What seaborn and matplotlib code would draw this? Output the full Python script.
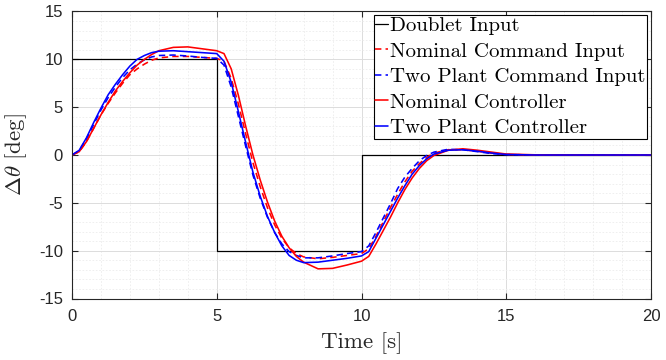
import matplotlib
matplotlib.use("Agg")
import matplotlib.pyplot as plt
import seaborn as sns
from matplotlib.ticker import MultipleLocator

# ---------------- data ----------------
t = [0, 0.25, 0.5, 0.75, 1, 1.25, 1.5, 1.75, 2, 2.25, 2.5, 2.75, 3,
     3.5, 4, 4.5, 5,
     5.25, 5.5, 5.75, 6, 6.25, 6.5, 6.75, 7, 7.25, 7.5, 7.75, 8,
     8.5, 9, 9.5, 10,
     10.25, 10.5, 10.75, 11, 11.25, 11.5, 11.75, 12, 12.25, 12.5,
     13, 13.5, 14, 14.5, 15,
     16, 18, 20]

nominal_cmd = [0, 0.35, 1.4, 2.8, 4.2, 5.4, 6.5, 7.5, 8.4, 9.0, 9.5, 9.9, 10.15,
               10.3, 10.3, 10.2, 10.1,
               9.8, 8.0, 5.3, 2.2, -0.8, -3.3, -5.5, -7.3, -8.7, -9.7, -10.3, -10.65,
               -10.85, -10.7, -10.5, -10.3,
               -9.8, -8.5, -7.0, -5.5, -4.1, -2.8, -1.7, -0.9, -0.25, 0.2,
               0.55, 0.55, 0.4, 0.2, 0.05,
               0.0, 0.0, 0.0]

twoplant_cmd = [0, 0.45, 1.7, 3.2, 4.7, 6.0, 7.1, 8.1, 8.9, 9.5, 9.95, 10.25, 10.4,
                10.45, 10.35, 10.2, 10.1,
                9.4, 7.1, 4.0, 0.9, -2.1, -4.5, -6.5, -8.1, -9.3, -10.1, -10.5, -10.75,
                -10.75, -10.55, -10.3, -10.1,
                -9.5, -8.1, -6.6, -5.1, -3.5, -2.3, -1.4, -0.6, -0.05, 0.3,
                0.6, 0.55, 0.35, 0.15, 0.05,
                0.0, 0.0, 0.0]

nominal_ctrl = [0, 0.35, 1.4, 2.8, 4.2, 5.5, 6.7, 7.7, 8.6, 9.4, 10.0, 10.5, 10.9,
                11.25, 11.3, 11.1, 10.9,
                10.6, 9.0, 6.2, 3.0, 0.0, -2.6, -4.9, -6.9, -8.5, -9.7, -10.6, -11.2,
                -11.9, -11.85, -11.5, -11.1,
                -10.6, -9.3, -7.9, -6.5, -5.0, -3.6, -2.4, -1.4, -0.6, -0.05,
                0.5, 0.65, 0.5, 0.3, 0.1,
                0.02, 0.0, 0.0]

twoplant_ctrl = [0, 0.5, 1.8, 3.4, 4.9, 6.3, 7.4, 8.4, 9.3, 10.0, 10.4, 10.7, 10.85,
                 10.9, 10.8, 10.7, 10.6,
                 9.8, 7.6, 4.5, 1.3, -1.8, -4.3, -6.4, -8.1, -9.5, -10.5, -11.0, -11.25,
                 -11.2, -11.0, -10.8, -10.55,
                 -10.1, -8.7, -7.3, -5.9, -4.5, -3.2, -2.0, -1.1, -0.4, 0.1,
                 0.5, 0.55, 0.4, 0.2, 0.05,
                 0.0, 0.0, 0.0]

doublet_t = [0, 5, 10, 20]
doublet_v = [10, -10, 0, 0]

labels = ["Doublet Input", "Nominal Command Input", "Two Plant Command Input",
          "Nominal Controller", "Two Plant Controller"]
xticks = [0, 5, 10, 15, 20]
yticks = [-15, -10, -5, 0, 5, 10, 15]

# ---------------- style ----------------
sns.set_theme(style="white")
plt.rcParams["font.family"] = ["Liberation Sans", "DejaVu Sans"]
plt.rcParams["mathtext.fontset"] = "cm"

fig = plt.figure(figsize=(6.66, 3.6), dpi=100)
ax = fig.add_axes([72 / 666, (360 - 298.5) / 360, 579 / 666, 287 / 360])

lw = 1.15
dash = (0, (4, 2.6))

sns.lineplot(x=doublet_t, y=doublet_v, ax=ax, color="black", lw=0.9,
             drawstyle="steps-post", label=labels[0], sort=False)
sns.lineplot(x=t, y=nominal_cmd, ax=ax, color="red", lw=lw, linestyle=dash,
             label=labels[1], sort=False)
sns.lineplot(x=t, y=twoplant_cmd, ax=ax, color="blue", lw=lw, linestyle=dash,
             label=labels[2], sort=False)
sns.lineplot(x=t, y=nominal_ctrl, ax=ax, color="red", lw=lw,
             label=labels[3], sort=False)
sns.lineplot(x=t, y=twoplant_ctrl, ax=ax, color="blue", lw=lw,
             label=labels[4], sort=False)

ax.set_xlim(0, 20)
ax.set_ylim(-15, 15)
ax.set_xticks(xticks)
ax.set_yticks(yticks)
ax.set_xticklabels([str(v) for v in xticks])
ax.set_yticklabels([str(v) for v in yticks])
ax.xaxis.set_minor_locator(MultipleLocator(1))
ax.yaxis.set_minor_locator(MultipleLocator(1))
ax.grid(which="major", color="#dcdcdc", lw=0.7, ls="-")
ax.grid(which="minor", color="#ececec", lw=0.6, ls=(0, (2, 2)))
ax.set_axisbelow(True)

for s in ax.spines.values():
    s.set_color("#262626")
    s.set_linewidth(0.8)
ax.tick_params(which="major", direction="in", length=4, width=0.8, color="#262626",
               top=True, right=True, bottom=True, left=True,
               labelsize=12, labelcolor="#262626")
ax.tick_params(axis="y", which="major", pad=6.5)
ax.tick_params(axis="x", which="major", pad=7.5)
ax.tick_params(which="minor", length=0, top=True, right=True)

ax.set_xlabel("Time [s]", fontsize=16.5, color="#262626", labelpad=6,
              fontfamily="cmr10")
ax.set_ylabel(r"$\Delta\theta\ [\mathrm{deg}]$", fontsize=16.5, color="#262626",
              labelpad=7)

leg = ax.legend(loc="upper right", bbox_to_anchor=(1 - 4 / 579, 1 - 3.5 / 287),
                borderaxespad=0, prop={"family": "cmr10", "size": 15.0},
                frameon=True, fancybox=False,
                handlelength=0.6, handletextpad=0.1, borderpad=0.08,
                labelspacing=0.33, framealpha=1)
leg.get_frame().set_edgecolor("black")
leg.get_frame().set_linewidth(0.8)
for txt in leg.get_texts():
    txt.set_color("black")

fig.savefig("out.png", dpi=100)
